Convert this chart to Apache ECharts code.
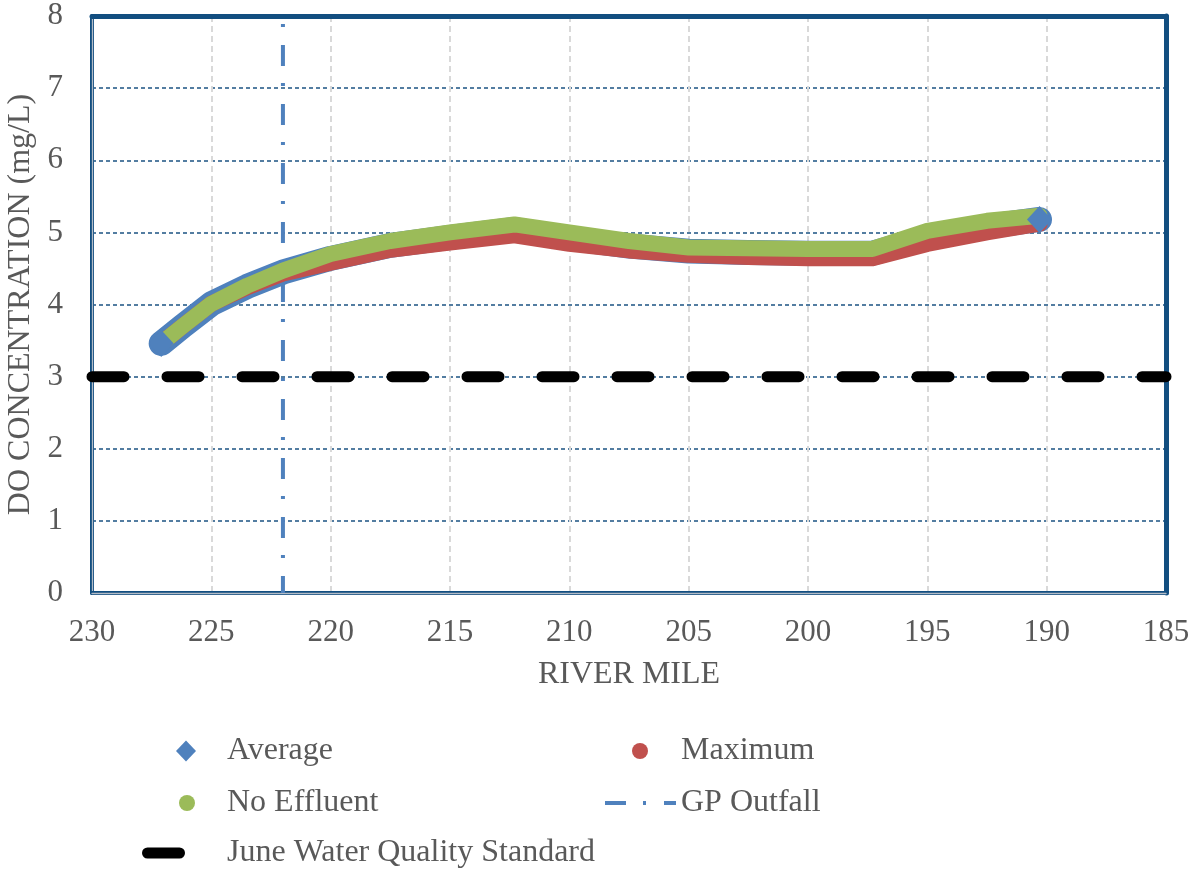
<!DOCTYPE html>
<html>
<head>
<meta charset="utf-8">
<script src="https://cdn.jsdelivr.net/npm/echarts@6/dist/echarts.min.js"></script>
<style>
html,body{margin:0;padding:0;background:#fff;}
#chart{width:1199px;height:871px;}
</style>
</head>
<body>
<div id="chart"></div>
<script>
// ---- data ----
const riverMile  = [227.1, 226.2, 225, 223.5, 222, 220, 217.5, 215, 212.3, 210, 207.5, 205, 202.5, 200, 197.3, 195, 192.5, 190.3];
const average    = [3.46, 3.70, 4.01, 4.25, 4.45, 4.64, 4.82, 4.93, 5.04, 4.92, 4.81, 4.74, 4.72, 4.71, 4.71, 4.93, 5.08, 5.18];
const maximum    = [3.46, 3.70, 4.01, 4.24, 4.43, 4.58, 4.76, 4.86, 4.96, 4.84, 4.75, 4.69, 4.66, 4.64, 4.64, 4.84, 5.00, 5.12];
const noEffluent = [3.46, 3.70, 4.01, 4.26, 4.47, 4.70, 4.88, 5.00, 5.11, 5.00, 4.88, 4.79, 4.78, 4.77, 4.77, 5.02, 5.16, 5.23];
const gpOutfallMile = 222;
const juneStandard = 3;
const xRange = [185, 230];
const yRange = [0, 8];
const names = ['Average', 'Maximum', 'No Effluent', 'GP Outfall', 'June Water Quality Standard'];

const FONT = '"Liberation Serif", "Times New Roman", serif';
const TXT = '#595959';
const BORDER = '#124E80';

const pair = (xs, ys) => xs.map((x, i) => [x, ys[i]]);
const lastIdx = riverMile.length - 1;

const chart = echarts.init(document.getElementById('chart'));
const baseX = { type: 'value', min: xRange[0], max: xRange[1], interval: 5, inverse: true };
const baseY = { type: 'value', min: yRange[0], max: yRange[1], interval: 1 };

const legendText = (pad) => ({ fontFamily: FONT, fontSize: 32, color: TXT, padding: [0, 0, 0, pad] });

// legend icon shapes (not data)
const dashDotIcon = 'path://M0,0 H21 V4 H0 Z M38,0 H41 V4 H38 Z M59,0 H71 V4 H59 Z';
const barIcon = 'path://M5.5,0 H37.5 A5.5,5.5 0 0 1 37.5,11 H5.5 A5.5,5.5 0 0 1 5.5,0 Z';

chart.setOption({
  animation: false,
  backgroundColor: '#fff',
  grid: { left: 92, right: 33, top: 16, bottom: 278, containLabel: false, outerBoundsMode: 'none' },
  xAxis: [
    Object.assign({}, baseX, {
      position: 'bottom',
      name: 'RIVER MILE', nameLocation: 'middle', nameGap: 66,
      nameTextStyle: { fontFamily: FONT, fontSize: 32, color: TXT },
      axisLine: { show: true, onZero: false, lineStyle: { color: BORDER, width: 4 } },
      axisTick: { show: false },
      axisLabel: { fontFamily: FONT, fontSize: 31, color: TXT, margin: 24 },
      splitLine: { show: true, lineStyle: { color: '#D9D9D9', width: 2, type: [6, 4] } }
    }),
    Object.assign({}, baseX, {
      position: 'top',
      axisLine: { show: true, onZero: false, lineStyle: { color: BORDER, width: 5 } },
      axisTick: { show: false }, axisLabel: { show: false }, splitLine: { show: false }
    }),
    Object.assign({}, baseX, {
      position: 'bottom',
      axisLine: { show: true, onZero: false, lineStyle: { color: '#B4BCC6', width: 1.3 } },
      axisTick: { show: false }, axisLabel: { show: false }, splitLine: { show: false }
    })
  ],
  yAxis: [
    Object.assign({}, baseY, {
      position: 'left',
      name: 'DO CONCENTRATION (mg/L)', nameLocation: 'middle', nameGap: 42, nameRotate: 90,
      nameTextStyle: { fontFamily: FONT, fontSize: 32, color: TXT },
      axisLine: { show: true, onZero: false, lineStyle: { color: BORDER, width: 4 } },
      axisTick: { show: false },
      axisLabel: { fontFamily: FONT, fontSize: 31, color: TXT, margin: 29 },
      splitLine: { show: true, lineStyle: { color: '#1B5383', width: 1.5, type: [4, 3] } }
    }),
    Object.assign({}, baseY, {
      position: 'right',
      axisLine: { show: true, onZero: false, lineStyle: { color: BORDER, width: 5 } },
      axisTick: { show: false }, axisLabel: { show: false }, splitLine: { show: false }
    }),
    Object.assign({}, baseY, {
      position: 'left',
      axisLine: { show: true, onZero: false, lineStyle: { color: '#B4BCC6', width: 1.3 } },
      axisTick: { show: false }, axisLabel: { show: false }, splitLine: { show: false }
    })
  ],
  legend: [
    { data: [names[0]], left: 176, top: 735, padding: 0, icon: 'diamond', itemWidth: 20, itemHeight: 21,
      textStyle: legendText(26), selectedMode: false },
    { data: [names[1]], left: 632, top: 735, padding: 0, icon: 'circle', itemWidth: 16, itemHeight: 16,
      textStyle: legendText(28), selectedMode: false },
    { data: [names[2]], left: 179, top: 787, padding: 0, icon: 'circle', itemWidth: 16, itemHeight: 16,
      textStyle: legendText(27), selectedMode: false },
    { data: [names[3]], left: 605, top: 787, padding: 0, icon: dashDotIcon, itemWidth: 71, itemHeight: 4,
      textStyle: legendText(0), selectedMode: false },
    { data: [names[4]], left: 142, top: 837, padding: 0, icon: barIcon, itemWidth: 43, itemHeight: 11,
      textStyle: legendText(37), selectedMode: false }
  ],
  series: [
    {
      name: names[4], type: 'line', xAxisIndex: 0, yAxisIndex: 0,
      data: [[xRange[1], juneStandard], [xRange[0], juneStandard]],
      symbol: 'none', color: '#000', itemStyle: { color: '#000' },
      lineStyle: { color: '#000', width: 11, type: [32, 43], cap: 'round' },
      silent: true
    },
    {
      name: names[3], type: 'line', xAxisIndex: 0, yAxisIndex: 0,
      data: [[gpOutfallMile, yRange[1]], [gpOutfallMile, yRange[0]]],
      symbol: 'none', color: '#4F81BD', itemStyle: { color: '#4F81BD' },
      lineStyle: { color: '#4F81BD', width: 4, type: [21, 17, 3, 18], dashOffset: 30, cap: 'butt' },
      silent: true
    },
    {
      name: names[0], type: 'line', xAxisIndex: 0, yAxisIndex: 0,
      data: pair(riverMile, average),
      symbol: 'diamond',
      symbolSize: (v, p) => (p.dataIndex === 0 || p.dataIndex === lastIdx) ? [25, 27] : 0,
      showSymbol: true, color: '#4F81BD',
      itemStyle: { color: '#4F81BD' },
      lineStyle: { color: '#4F81BD', width: 25, cap: 'round', join: 'round' },
      silent: true
    },
    {
      name: names[1], type: 'line', xAxisIndex: 0, yAxisIndex: 0,
      data: pair(riverMile, maximum),
      symbol: 'circle', showSymbol: false, color: '#C0504D',
      itemStyle: { color: '#C0504D' },
      lineStyle: { color: '#C0504D', width: 16, cap: 'round', join: 'round' },
      silent: true
    },
    {
      name: names[2], type: 'line', xAxisIndex: 0, yAxisIndex: 0,
      data: pair(riverMile, noEffluent),
      symbol: 'circle', showSymbol: false, color: '#9BBB59',
      itemStyle: { color: '#9BBB59' },
      lineStyle: { color: '#9BBB59', width: 16, cap: 'round', join: 'round' },
      silent: true
    }
  ]
});
</script>
</body>
</html>
